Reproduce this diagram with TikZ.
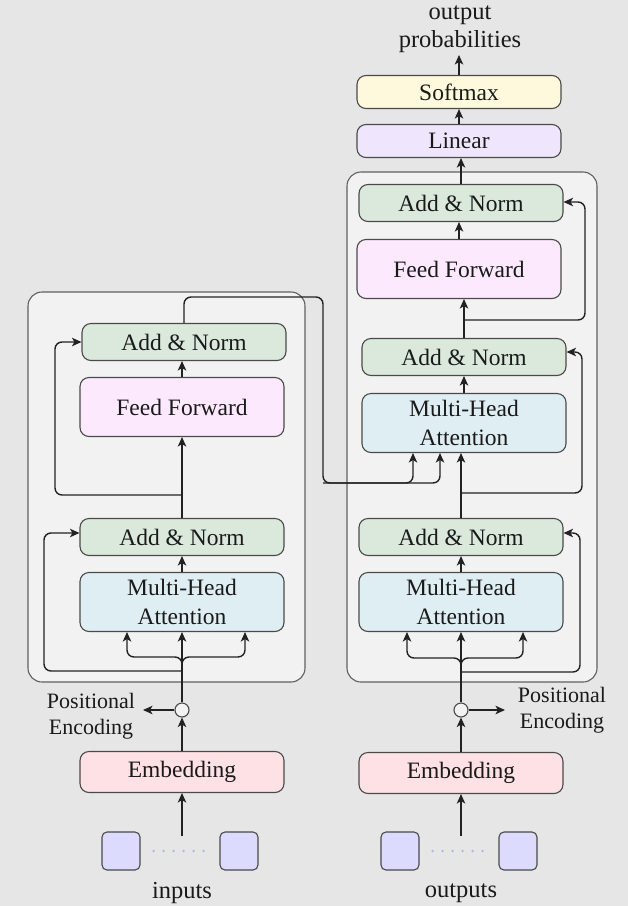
\documentclass[tikz,border=0pt]{standalone}
\usepackage{fontspec}
\setmainfont{Liberation Serif}
\usetikzlibrary{arrows.meta}

\definecolor{bgcol}{HTML}{E6E6E6}
\definecolor{contfill}{HTML}{F2F2F2}
\definecolor{contline}{HTML}{606060}
\definecolor{boxline}{HTML}{4A4A4A}
\definecolor{linecol}{HTML}{222222}
\definecolor{txtcol}{HTML}{1A1A1A}
\definecolor{normcol}{HTML}{DAE9DC}
\definecolor{ffcol}{HTML}{FDE9FD}
\definecolor{attcol}{HTML}{DFEEF3}
\definecolor{embcol}{HTML}{FDE1E4}
\definecolor{softcol}{HTML}{FEF9DC}
\definecolor{lincol}{HTML}{EFE5FC}
\definecolor{sqcol}{HTML}{DCDAFD}
\definecolor{dotcol}{HTML}{A9B4EA}

\newcommand{\dgboxfont}{\fontsize{23.5}{29}\selectfont}
\newcommand{\dglabelfont}{\fontsize{24.5}{28}\selectfont}
\newcommand{\dgpefont}{\fontsize{22}{25.5}\selectfont}

\begin{document}
\begin{tikzpicture}[x=1pt,y=-1pt,
  box/.style={draw=boxline, line width=1.1pt, rounded corners=9pt,
    minimum width=204pt, inner sep=0pt, align=center, font=\dgboxfont,
    text=txtcol},
  normbox/.style={box, fill=normcol, minimum height=37pt},
  ffbox/.style={box, fill=ffcol, minimum height=59pt},
  attbox/.style={box, fill=attcol, minimum height=59pt},
  embbox/.style={box, fill=embcol, minimum height=41pt},
  softbox/.style={box, fill=softcol, minimum height=33pt},
  linbox/.style={box, fill=lincol, minimum height=33pt},
  tokbox/.style={draw=boxline, line width=1.1pt, rounded corners=5pt,
    fill=sqcol, minimum size=38pt, inner sep=0pt},
  pecirc/.style={draw=boxline, line width=1.1pt, fill=contfill,
    circle, minimum size=14pt, inner sep=0pt},
  container/.style={draw=contline, fill=contfill, line width=1.1pt,
    rounded corners=14pt},
  conn/.style={draw=linecol, line width=1.4pt, rounded corners=7pt},
  arr/.style={conn, -{Stealth[length=9.5pt,width=8.5pt,inset=2.5pt]}},
  lbl/.style={align=center, font=\dglabelfont, inner sep=0pt, text=txtcol},
  pelbl/.style={align=center, font=\dgpefont, inner sep=0pt, text=txtcol},
  dots/.style={draw=dotcol, line width=2.6pt, line cap=round,
    dash pattern=on 0pt off 10pt}
]
% canvas
\fill[bgcol] (0,0) rectangle (628,906);
\useasboundingbox (0,0) rectangle (628,906);

% encoder and decoder stacks
\draw[container] (28,292) rectangle (305,682);
\draw[container] (347,172) rectangle (597,682);

% ---------------- encoder ----------------
\node[normbox] (encAN2) at (184,342) {Add \& Norm};
\node[ffbox]   (encFF)  at (182,407) {Feed Forward};
\node[normbox] (encAN1) at (182,537) {Add \& Norm};
\node[attbox]  (encMHA) at (182,602) {Multi-Head\\Attention};
\node[pecirc]  (encPE)  at (182,710) {};
\node[embbox]  (encEmb) at (182,772) {Embedding};
\node[tokbox]  (inSqL)  at (121,851) {};
\node[tokbox]  (inSqR)  at (239,851) {};
\node[lbl]     (inLbl)  at (182,893) {inputs};
\node[pelbl]   (encPElbl) at (91,716) {Positional\\Encoding};

\coordinate (inTail)   at (182,836);
\coordinate (encPEtip) at (143,710);
\coordinate (encJ)     at (182,671);
\coordinate (encBL)    at (127,657);
\coordinate (encBR)    at (245,657);
\coordinate (encR1)    at (44,671);
\coordinate (encS2)    at (182,495);
\coordinate (encR2)    at (55,495);
\coordinate (crossT)   at (323,297);
\coordinate (crossB)   at (323,483);

% ---------------- decoder ----------------
\node[softbox] (soft)   at (459,92)  {Softmax};
\node[linbox]  (lin)    at (459,141) {Linear};
\node[normbox] (decAN3) at (461,203) {Add \& Norm};
\node[ffbox]   (decFF)  at (459,269) {Feed Forward};
\node[normbox] (decAN2) at (464,357) {Add \& Norm};
\node[attbox]  (decMHA2) at (464,423) {Multi-Head\\Attention};
\node[normbox] (decAN1) at (461,537) {Add \& Norm};
\node[attbox]  (decMHA1) at (461,602) {Multi-Head\\Attention};
\node[pecirc]  (decPE)  at (461,710) {};
\node[embbox]  (decEmb) at (461,773) {Embedding};
\node[tokbox]  (outSqL) at (400,851) {};
\node[tokbox]  (outSqR) at (518,851) {};
\node[lbl]     (outLbl) at (461,893) {outputs};
\node[pelbl]   (decPElbl) at (562,710) {Positional\\Encoding};
\node[lbl]     (probLbl) at (460,29) {output\\probabilities};

\coordinate (outTail)  at (461,836);
\coordinate (decPEtip) at (505,710);
\coordinate (decJ)     at (461,672);
\coordinate (decBL)    at (407,658);
\coordinate (decBR)    at (523,658);
\coordinate (decR1)    at (580,672);
\coordinate (decS2)    at (461,493);
\coordinate (decR2)    at (582,493);
\coordinate (decS3)    at (463,320);
\coordinate (decR3)    at (585,320);
\coordinate (probTip)  at (459,55);

% token rows
\draw[dots] ([xshift=13pt]inSqL.east) -- ([xshift=-14pt]inSqR.west);
\draw[dots] ([xshift=13pt]outSqL.east) -- ([xshift=-14pt]outSqR.west);

% ---------------- encoder connectors ----------------
\draw[arr] (inTail) -- (encEmb.south);
\draw[arr] (encEmb.north) -- (encPE.south);
\draw[arr] (encPE.north) -- (encMHA.south);
\draw[arr] (encPE.west) -- (encPEtip);
\draw[arr] (encJ) |- (encBL) -- (encBL |- encMHA.south);
\draw[arr] (encJ) |- (encBR) -- (encBR |- encMHA.south);
\draw[arr] (encJ) -- (encR1) |- ([yshift=4pt]encAN1.west);
\draw[arr] (encMHA.north) -- (encAN1.south);
\draw[arr] (encAN1.north) -- (encFF.south);
\draw[arr] (encS2) -- (encR2) |- (encAN2.west);
\draw[arr] (encFF.north) -- (encFF.north |- encAN2.south);
% encoder output into the decoder cross attention
\draw[arr] (encAN2.north) |- (crossT) -- (crossB) -| ([xshift=-51pt]decMHA2.south);
\draw[arr] (crossB) -| ([xshift=-24pt]decMHA2.south);

% ---------------- decoder connectors ----------------
\draw[arr] (outTail) -- (decEmb.south);
\draw[arr] (decEmb.north) -- (decPE.south);
\draw[arr] (decPE.north) -- (decMHA1.south);
\draw[arr] (decPE.east) -- (decPEtip);
\draw[arr] (decJ) |- (decBL) -- (decBL |- decMHA1.south);
\draw[arr] (decJ) |- (decBR) -- (decBR |- decMHA1.south);
\draw[arr] (decJ) -- (decR1) |- ([yshift=4pt]decAN1.east);
\draw[arr] (decMHA1.north) -- (decAN1.south);
\draw[arr] (decAN1.north) -- (decAN1.north |- decMHA2.south);
\draw[arr] (decS2) -- (decR2) |- ([yshift=5pt]decAN2.east);
\draw[arr] (decMHA2.north) -- (decAN2.south);
\draw[arr] (decAN2.north) -- (decAN2.north |- decFF.south);
\draw[arr] (decS3) -- (decR3) |- ([yshift=1pt]decAN3.east);
\draw[arr] (decFF.north) -- (decFF.north |- decAN3.south);
\draw[arr] (decAN3.north) -- (decAN3.north |- lin.south);
\draw[arr] (lin.north) -- (soft.south);
\draw[arr] (soft.north) -- (probTip);
\end{tikzpicture}
\end{document}
